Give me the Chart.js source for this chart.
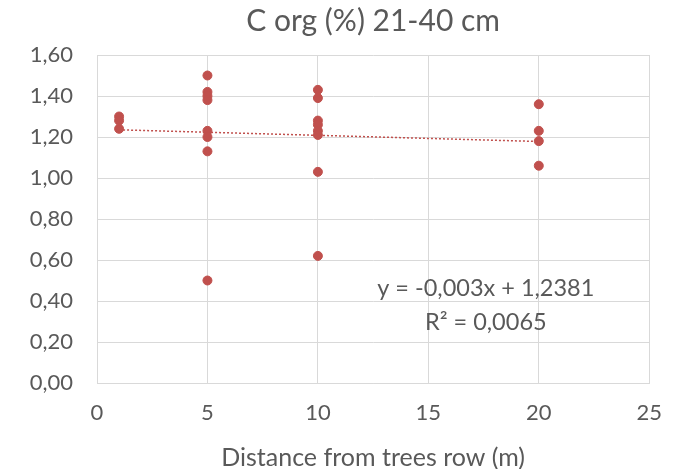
<!DOCTYPE html>
<html lang="en">
<head>
    <meta charset="UTF-8">
    <title>C org (%) 21-40 cm</title>
    <script src="https://cdn.jsdelivr.net/npm/chart.js"></script>
    <style>
        html, body {
            margin: 0;
            padding: 0;
            background: #fff;
        }

        .chart-box {
            width: 679px;
            height: 469px;
        }
    </style>
</head>
<body>
    <div class="chart-box">
        <canvas id="corgChart"></canvas>
    </div>

    <script>
        // distance from trees row (m) and C org (%) per sample
        const distances = [1, 1, 1,
            5, 5, 5, 5, 5, 5, 5, 5,
            10, 10, 10, 10, 10, 10, 10, 10,
            20, 20, 20, 20];
        const corgValues = [1.30, 1.28, 1.24,
            1.50, 1.42, 1.40, 1.38, 1.23, 1.20, 1.13, 0.50,
            1.43, 1.39, 1.28, 1.26, 1.23, 1.21, 1.03, 0.62,
            1.36, 1.23, 1.18, 1.06];

        // linear trend as given in the chart
        const trendSlope = -0.003;
        const trendIntercept = 1.2381;
        const trendLabels = ['y = -0,003x + 1,2381', 'R² = 0,0065'];

        const yTicks = [0, 0.2, 0.4, 0.6, 0.8, 1.0, 1.2, 1.4, 1.6];
        const xTicks = [0, 5, 10, 15, 20, 25];

        const textColor = '#595959';
        const gridColor = '#d9d9d9';
        const pointColor = '#c0504d';
        const fontFamily = 'Lato, "Open Sans", sans-serif';

        const points = distances.map((d, i) => ({ x: d, y: corgValues[i] }));
        const xMin = Math.min(...distances);
        const xMax = Math.max(...distances);
        const trendPoints = [xMin, xMax].map(x => ({ x: x, y: trendSlope * x + trendIntercept }));

        // equation text drawn inside the plot area
        const equationPlugin = {
            id: 'equationText',
            afterDatasetsDraw(chart) {
                const ctx = chart.ctx;
                const xs = chart.scales.x;
                const ys = chart.scales.y;
                ctx.save();
                ctx.fillStyle = textColor;
                ctx.font = '23.5px ' + fontFamily;
                ctx.textAlign = 'center';
                ctx.textBaseline = 'middle';
                ctx.fillText(trendLabels[0], xs.getPixelForValue(17.6), ys.getPixelForValue(0.46));
                ctx.fillText(trendLabels[1], xs.getPixelForValue(17.6), ys.getPixelForValue(0.295));
                ctx.restore();
            }
        };

        new Chart(document.getElementById('corgChart'), {
            type: 'scatter',
            data: {
                datasets: [{
                    label: 'C org',
                    data: points,
                    backgroundColor: pointColor,
                    borderColor: pointColor,
                    pointRadius: 4.5,
                    pointHoverRadius: 4.5
                }, {
                    label: 'Trend',
                    type: 'line',
                    data: trendPoints,
                    borderColor: pointColor,
                    borderWidth: 1.5,
                    borderDash: [2, 2],
                    pointRadius: 0,
                    fill: false
                }]
            },
            options: {
                responsive: true,
                maintainAspectRatio: false,
                animation: false,
                layout: {
                    padding: { left: 0, right: 17, top: 0, bottom: 0 }
                },
                plugins: {
                    legend: { display: false },
                    tooltip: { enabled: false },
                    title: {
                        display: true,
                        fullSize: false,
                        text: 'C org (%) 21-40 cm',
                        color: textColor,
                        font: { family: fontFamily, size: 30, weight: 'normal' },
                        padding: { top: 3, bottom: 16 }
                    }
                },
                scales: {
                    x: {
                        type: 'linear',
                        min: 0,
                        max: 25,
                        afterBuildTicks: axis => { axis.ticks = xTicks.map(v => ({ value: v })); },
                        afterFit: axis => { axis.height = 86; },
                        grid: { color: gridColor, drawTicks: false },
                        border: { color: gridColor },
                        ticks: {
                            color: textColor,
                            padding: 17,
                            font: { family: fontFamily, size: 22 }
                        },
                        title: {
                            display: true,
                            text: 'Distance from trees row (m)',
                            color: textColor,
                            font: { family: fontFamily, size: 25 },
                            padding: { top: 0, bottom: -4 }
                        }
                    },
                    y: {
                        min: 0,
                        max: 1.6,
                        afterBuildTicks: axis => { axis.ticks = yTicks.map(v => ({ value: v })); },
                        afterFit: axis => { axis.width = 97; },
                        grid: { color: gridColor, drawTicks: false },
                        border: { color: gridColor },
                        ticks: {
                            color: textColor,
                            padding: 24,
                            font: { family: fontFamily, size: 22 },
                            callback: v => v.toFixed(2).replace('.', ',')
                        }
                    }
                }
            },
            plugins: [equationPlugin]
        });
    </script>
</body>
</html>
